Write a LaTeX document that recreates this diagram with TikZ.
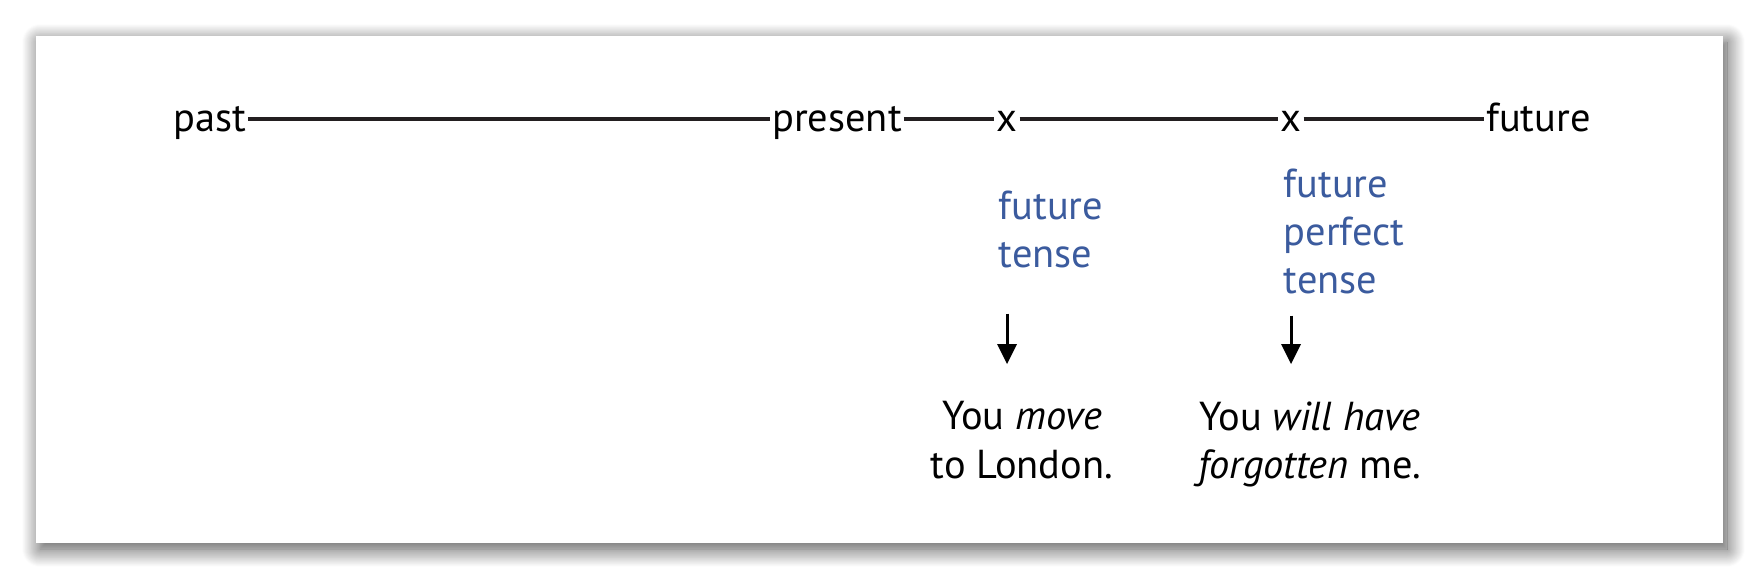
\documentclass[tikz,border=0pt]{standalone}
\usepackage{fontspec}
\setmainfont{PT Sans}
\usepackage{tikz}
\usetikzlibrary{arrows.meta,shadows.blur,positioning}
\definecolor{tenseblue}{RGB}{59,91,158}
\definecolor{axisgray}{RGB}{35,31,32}

\begin{document}
\begin{tikzpicture}[x=0.1mm, y=-0.1mm,
    >={Triangle[length=2mm,width=2mm,fill=black,line width=0pt]},
    every node/.style={font=\fontsize{11.5}{13.7}\selectfont, inner sep=0pt},
    word/.style={text height=2.6mm, text depth=0pt, inner xsep=0.15mm},
    tense/.style={text=tenseblue, align=left, anchor=north west},
    sentence/.style={align=center, anchor=north},
    axis/.style={draw=axisgray, line width=0.33mm},
    pointer/.style={->, draw=black, line width=0.3mm}]

    \useasboundingbox (0,0) rectangle (1760,580);
    \fill[white, blur shadow={shadow xshift=0.4mm, shadow yshift=-0.6mm,
        shadow blur radius=1.8mm, shadow blur steps=20, shadow opacity=70}]
        (36,36) rectangle (1723,543);

    % time line
    \node[word, anchor=base west] (past)    at (171,132)  {past};
    \node[word, anchor=base west] (present) at (770,132)  {present};
    \node[word, anchor=base]      (x1)      at (1007,132) {x};
    \node[word, anchor=base]      (x2)      at (1291,132) {x};
    \node[word, anchor=base west] (future)  at (1484,132) {future};

    \draw[axis] (past) -- (present) -- (x1) -- (x2) -- (future);

    % tenses
    \node[tense] (fut)     at (998,190)  {future\\tense};
    \node[tense] (futperf) at (1283,168) {future\\perfect\\tense};

    % examples
    \node[sentence] (move)   at (1022,401) {You \textit{move}\\to London.};
    \node[sentence] (forgot) at (1310,401) {You \textit{will have}\\\textit{forgotten} me.};

    \draw[pointer, shorten <=4.5mm, shorten >=3.7mm] (x1 |- fut.south) -- (x1 |- move.north);
    \draw[pointer, shorten <=2.1mm, shorten >=3.7mm] (x2 |- futperf.south) -- (x2 |- forgot.north);

\end{tikzpicture}
\end{document}
